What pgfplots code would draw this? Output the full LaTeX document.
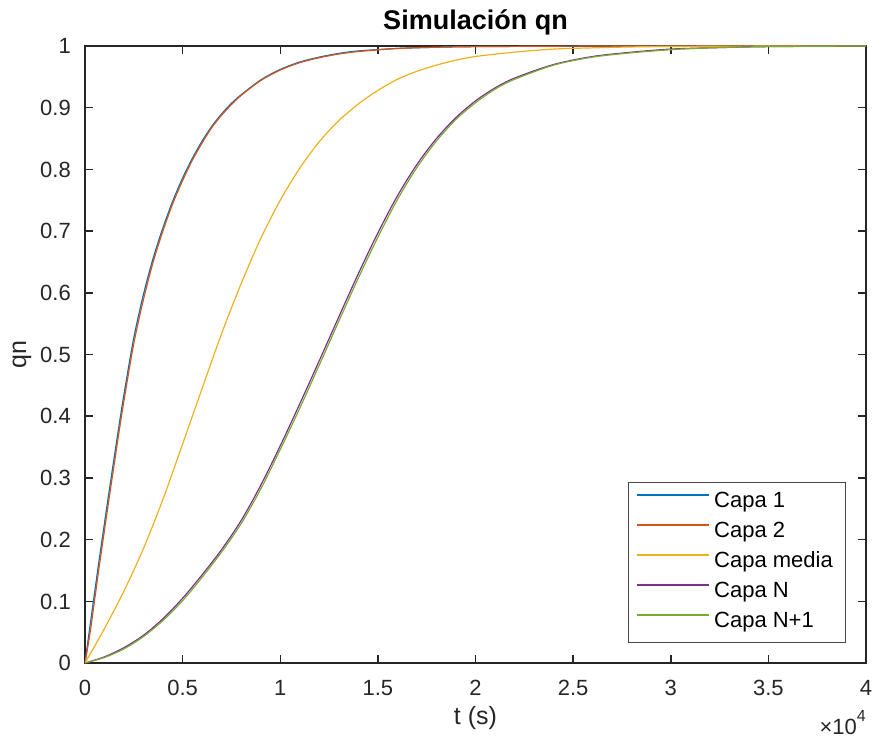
\documentclass[border=0pt]{standalone}
\usepackage{fontspec}
\setmainfont{Liberation Sans}
\usepackage{pgfplots}
\pgfplotsset{compat=1.18}
\definecolor{mblue}{HTML}{0072BD}
\definecolor{mred}{HTML}{D95319}
\definecolor{myellow}{HTML}{EDB120}
\definecolor{mpurple}{HTML}{7E2F8E}
\definecolor{mgreen}{HTML}{77AC30}
\definecolor{axgrey}{HTML}{262626}

\begin{document}
\begin{tikzpicture}
\path[use as bounding box] (-85bp,-77bp) rectangle (787bp,663bp);
\begin{axis}[
  at={(0,0)}, anchor=south west,
  scale only axis, width=781bp, height=617bp,
  xmin=0, xmax=40000, ymin=0, ymax=1,
  xtick={0,5000,10000,15000,20000,25000,30000,35000,40000},
  xticklabels={0,0.5,1,1.5,2,2.5,3,3.5,4},
  ytick={0,0.1,0.2,0.3,0.4,0.5,0.6,0.7,0.8,0.9,1},
  yticklabels={0,0.1,0.2,0.3,0.4,0.5,0.6,0.7,0.8,0.9,1},
  scaled x ticks=false,
  tick align=inside, xtick pos=both, ytick pos=both,
  major tick length=8bp,
  axis line style={axgrey,line width=1.5bp},
  every tick/.style={axgrey,line width=1.5bp},
  /pgf/number format/assume math mode=true,
  tick label style={font=\fontsize{22bp}{26bp}\selectfont, text=axgrey},
  x tick label style={anchor=north, inner sep=0pt, text height=15.5bp, text depth=0pt, yshift=-17bp},
  y tick label style={anchor=east, inner sep=0pt, text height=15.5bp, text depth=0pt, xshift=-14bp},
  xlabel={t (s)}, ylabel={qn},
  xlabel style={font=\fontsize{25bp}{30bp}\selectfont, text=axgrey, at={(axis description cs:0.5,0)}, anchor=center, yshift=-55bp},
  ylabel style={font=\fontsize{25bp}{30bp}\selectfont, text=axgrey, at={(axis description cs:0,0.5)}, anchor=center, yshift=63bp},
  title={Simulación qn},
  title style={font=\bfseries\fontsize{27bp}{32bp}\selectfont, at={(axis description cs:0.5,1)}, anchor=base, yshift=11bp},
  legend cell align=left,
  legend image code/.code={\draw[#1,line width=2bp] (4bp,7bp) -- (76bp,7bp);},
  legend style={at={(1,0)}, anchor=south east, xshift=-21bp, yshift=21bp,
    draw=axgrey!85, inner xsep=8bp, inner ysep=6bp, row sep=2bp,
    font=\fontsize{22bp}{26bp}\selectfont,
    nodes={inner sep=4bp, text height=16bp, text depth=4bp}},
  every axis plot/.append style={line width=1.2bp, smooth},
]
\addplot[mblue] coordinates {
  (0,0) (250,0.058) (500,0.116) (750,0.172) (1000,0.227) (1250,0.281) (1500,0.334)
  (1750,0.386) (2000,0.436) (2500,0.527) (3000,0.598) (3500,0.657) (4000,0.706)
  (4500,0.749) (5000,0.786) (5500,0.818) (6000,0.846) (6500,0.870) (7000,0.890)
  (7500,0.907) (8000,0.921) (9000,0.945) (10000,0.962) (11000,0.974) (12000,0.982)
  (13000,0.988) (14000,0.992) (16000,0.996) (18000,0.998) (20000,0.999)
  (25000,0.9998) (30000,1.0) (40000,1.0)};
\addplot[mred] coordinates {
  (0,0) (250,0.047) (500,0.104) (750,0.161) (1000,0.216) (1250,0.270) (1500,0.323)
  (1750,0.376) (2000,0.426) (2500,0.518) (3000,0.590) (3500,0.651) (4000,0.701)
  (4500,0.745) (5000,0.782) (5500,0.815) (6000,0.843) (6500,0.868) (7000,0.888)
  (7500,0.905) (8000,0.920) (9000,0.944) (10000,0.961) (11000,0.973) (12000,0.981)
  (13000,0.987) (14000,0.991) (16000,0.996) (18000,0.998) (20000,0.999)
  (25000,0.9998) (30000,1.0) (40000,1.0)};
\addplot[myellow] coordinates {
  (0,0) (1000,0.056) (2000,0.117) (3000,0.186) (4000,0.266) (5000,0.355)
  (6000,0.445) (7000,0.534) (8000,0.615) (9000,0.688) (10000,0.750) (11000,0.802)
  (12000,0.845) (13000,0.879) (14000,0.906) (15000,0.928) (16000,0.946)
  (17000,0.959) (18000,0.969) (19000,0.977) (20000,0.983) (22000,0.990)
  (24000,0.995) (26000,0.997) (28000,0.9985) (30000,0.9992) (35000,0.9999) (40000,1.0)};
\addplot[mpurple] coordinates {
  (0,0) (1000,0.010) (2000,0.025) (3000,0.045) (4000,0.072) (5000,0.105)
  (6000,0.143) (7000,0.184) (8000,0.231) (9000,0.288) (10000,0.352) (11000,0.420)
  (12000,0.490) (13000,0.561) (14000,0.631) (15000,0.697) (16000,0.757)
  (17000,0.808) (18000,0.850) (19000,0.884) (20000,0.911) (21000,0.932)
  (22000,0.948) (24000,0.970) (26000,0.983) (28000,0.990) (30000,0.995)
  (32000,0.997) (35000,0.999) (40000,1.0)};
\addplot[mgreen] coordinates {
  (0,0) (1000,0.009) (2000,0.023) (3000,0.043) (4000,0.069) (5000,0.101)
  (6000,0.139) (7000,0.180) (8000,0.226) (9000,0.282) (10000,0.346) (11000,0.413)
  (12000,0.483) (13000,0.554) (14000,0.624) (15000,0.690) (16000,0.751)
  (17000,0.803) (18000,0.846) (19000,0.881) (20000,0.908) (21000,0.930)
  (22000,0.946) (24000,0.969) (26000,0.982) (28000,0.989) (30000,0.994)
  (32000,0.997) (35000,0.999) (40000,1.0)};
\legend{Capa 1, Capa 2, Capa media, Capa N, Capa N+1}
\end{axis}
\node[anchor=base east, inner sep=0pt, text=axgrey, font=\fontsize{22bp}{26bp}\selectfont]
  at (781bp,-71bp) {×10\raisebox{0.55em}{\fontsize{16bp}{19bp}\selectfont 4}};
\end{tikzpicture}
\end{document}
